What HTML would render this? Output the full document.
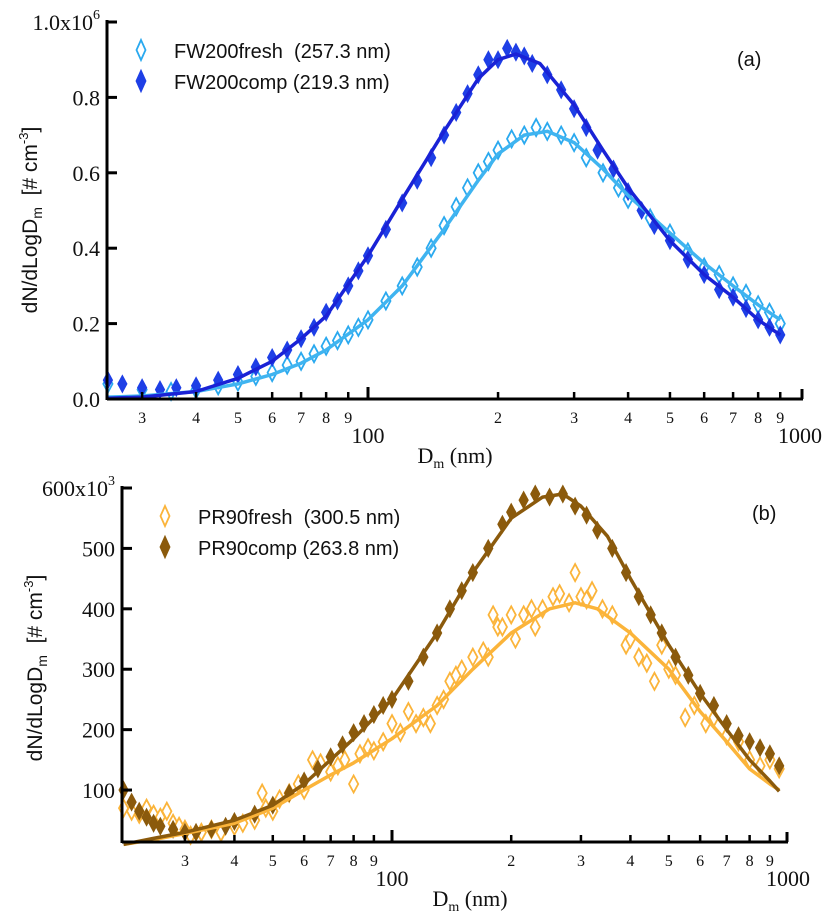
<!DOCTYPE html>
<html><head><meta charset="utf-8"><style>
body{margin:0;background:#fff;width:832px;height:916px;overflow:hidden}
svg{display:block}
.tk{font-family:"Liberation Serif",serif;font-size:22px;fill:#111}
.mt{font-family:"Liberation Serif",serif;font-size:16px;fill:#111}
.lg{font-family:"Liberation Sans",sans-serif;font-size:20px;fill:#111}
.ti{font-family:"Liberation Sans",sans-serif;font-size:21px;fill:#111}
</style></head><body>
<svg id="chart" width="832" height="916" viewBox="0 0 832 916" xmlns="http://www.w3.org/2000/svg"></svg>
<script>
// Panel (a) data, units 1e6 #/cm3
const aCompD=[25,27,30,33,36,40,45,50,55,60,65,70,75,80,85,90,95,100,110,120,130,140,150,160,170,180,190,200,210,220,230,240,260,280,300,320,340,370,400,430,460,500,550,600,650,700,750,800,850,900];
const aCompV=[0.05,0.04,0.03,0.025,0.03,0.035,0.05,0.065,0.085,0.11,0.13,0.16,0.19,0.23,0.26,0.30,0.34,0.38,0.45,0.52,0.58,0.64,0.70,0.76,0.81,0.86,0.90,0.90,0.93,0.92,0.91,0.89,0.86,0.82,0.77,0.72,0.66,0.61,0.55,0.50,0.46,0.42,0.37,0.33,0.29,0.27,0.24,0.21,0.19,0.17];
const aCompFitD=[25,30,40,50,60,70,80,100,120,150,180,200,220,250,300,350,400,500,600,700,800,900];
const aCompFitV=[0.002,0.005,0.02,0.055,0.10,0.16,0.22,0.38,0.53,0.71,0.85,0.90,0.915,0.89,0.78,0.66,0.56,0.42,0.33,0.27,0.21,0.17];
const aFreshD=[25,30,35,40,45,50,55,60,65,70,75,80,85,90,95,100,110,120,130,140,150,160,170,180,190,200,215,230,245,260,280,300,320,350,380,400,450,500,550,600,650,700,750,800,850,900];
const aFreshV=[0.04,0.025,0.02,0.025,0.035,0.045,0.06,0.07,0.09,0.10,0.12,0.14,0.155,0.17,0.19,0.21,0.26,0.30,0.35,0.40,0.46,0.51,0.56,0.60,0.63,0.66,0.69,0.70,0.72,0.71,0.70,0.68,0.64,0.60,0.56,0.53,0.48,0.44,0.39,0.35,0.33,0.30,0.28,0.25,0.23,0.20];
const aFreshFitD=[25,30,40,50,60,70,80,100,120,150,180,200,230,260,300,350,400,500,600,700,800,900];
const aFreshFitV=[0.005,0.008,0.02,0.04,0.065,0.095,0.13,0.21,0.30,0.45,0.58,0.65,0.70,0.71,0.68,0.61,0.54,0.44,0.36,0.30,0.25,0.21];
const aTicks=[0,0.2,0.4,0.6,0.8,1.0];
const aTickLabels=["0.0","0.2","0.4","0.6","0.8","1.0x10"];
// Panel (b) data, units 1e3 #/cm3
const bCompD=[21,22,23,24,25,26,28,30,32,35,38,40,45,50,55,60,65,70,75,80,85,90,95,100,110,120,130,140,150,160,175,190,200,215,230,250,270,290,310,330,360,390,420,450,480,520,560,600,650,700,750,800,850,900,950];
const bCompV=[100,80,65,55,45,40,35,30,30,35,40,48,60,75,95,115,135,155,175,195,210,225,240,250,280,320,360,400,430,460,500,540,560,580,590,585,590,570,555,530,500,460,420,390,360,320,290,260,240,210,190,180,170,160,140];
const bCompFitD=[21,25,30,40,50,60,70,80,100,130,160,200,240,270,300,350,400,500,600,700,800,900,950];
const bCompFitV=[10,20,30,50,75,110,150,185,250,360,460,550,585,590,570,520,450,340,260,200,150,115,98];
const bFreshD=[21,22,23,24,25,26,27,28,29,30,31,33,35,37,40,42,45,47,48,50,52,55,58,60,63,66,70,73,76,80,83,87,90,95,100,105,110,115,120,125,130,135,140,145,150,160,170,175,180,185,190,200,205,215,225,230,240,255,265,280,290,300,310,320,340,360,390,400,420,440,460,480,500,520,550,580,620,650,700,750,800,850,900,950];
const bFreshV=[70,65,60,70,60,55,65,45,40,35,25,30,35,30,40,45,50,95,70,65,85,95,110,100,150,145,130,140,150,110,160,170,165,180,210,195,230,210,220,210,240,250,280,290,300,320,330,320,390,370,370,390,350,390,400,370,400,420,425,410,460,420,415,430,400,390,340,350,320,310,280,340,300,290,220,240,210,220,190,180,150,140,150,135];
const bFreshFitD=[21,25,30,40,50,60,70,80,100,130,160,200,250,290,330,400,500,600,700,800,900,950];
const bFreshFitV=[10,18,28,45,70,100,125,145,185,240,300,360,400,410,400,360,300,230,180,135,110,100];
const bTicks=[100,200,300,400,500,600];
const bTickLabels=["100","200","300","400","500","600x10"];
const xMinor=[30,40,50,60,70,80,90,200,300,400,500,600,700,800,900];
const xMinorLabels=["3","4","5","6","7","8","9","2","3","4","5","6","7","8","9"];

const NS="http://www.w3.org/2000/svg";
const svg=document.getElementById('chart');
function mk(tag,attrs,parent){const e=document.createElementNS(NS,tag);for(const k in attrs)e.setAttribute(k,attrs[k]);(parent||svg).appendChild(e);return e;}

function panel(P){
  const g=mk('g',{});
  
  
  const X=d=>P.x100+Math.log10(d/100)*P.dec;
  const Y=v=>P.y0-(v-P.vmin)/(P.vmax-P.vmin)*(P.y0-P.ytop);
  function line(D,V,col,nm){
    const p=mk('path',{d:D.map((d,i)=>(i?'L':'M')+X(d).toFixed(1)+','+Y(V[i]).toFixed(1)).join(''),fill:'none',stroke:col,'stroke-width':3.5,'stroke-linejoin':'round'},g);
    
    
  }
  function pts(D,V,col,filled,nm){
    const gg=mk('g',{},g);
    
    
    D.forEach((d,i)=>{const x=X(d),y=Y(V[i]);
      const m=mk('path',{d:`M${x},${y-8.5}L${x+4.6},${y}L${x},${y+8.5}L${x-4.6},${y}Z`,fill:filled?col:'#fff',stroke:col,'stroke-width':filled?1:1.8},gg);
      
      });
  }
  pts(P.fD,P.fV,P.fCol,false,'fresh-points');
  pts(P.cD,P.cV,P.cCol,true,'comp-points');
  line(P.fFD,P.fFV,P.fLine,'fresh-fit-line');
  line(P.cFD,P.cFV,P.cLine,'comp-fit-line');
  const ya=mk('line',{x1:P.xl,y1:P.ytop-2,x2:P.xl,y2:P.y0+1,stroke:'#000','stroke-width':3},g);
  
  const xa=mk('line',{x1:P.xl,y1:P.y0,x2:P.xr,y2:P.y0,stroke:'#000','stroke-width':3},g);
  
  mk('line',{x1:P.xr-1,y1:P.y0,x2:P.xr-1,y2:P.y0-10,stroke:'#000','stroke-width':3},g);
  P.ticks.forEach((t,i)=>{const y=Y(t);
    mk('line',{x1:P.xl,y1:y,x2:P.xl+10,y2:y,stroke:'#000','stroke-width':3},g);
    const tx=mk('text',{x:P.xl-7,y:y+8,'text-anchor':'end',class:'tk'},g);tx.textContent=P.tickLabels[i];
    
    if(i===P.ticks.length-1){const s=mk('tspan',{dy:-11,'font-size':14},tx);s.textContent=P.exp;}
  });
  xMinor.forEach((d,i)=>{const x=X(d);
    mk('line',{x1:x,y1:P.y0,x2:x,y2:P.y0-7,stroke:'#000','stroke-width':2.5},g);
    const t=mk('text',{x:x,y:P.y0+24,'text-anchor':'middle',class:'mt'},g);t.textContent=xMinorLabels[i];
    });
  [100,1000].forEach(d=>{const x=X(d);
    if(d===100)mk('line',{x1:x,y1:P.y0,x2:x,y2:P.y0-12,stroke:'#000','stroke-width':3},g);
    const t=mk('text',{x:x,y:P.y0+44,'text-anchor':'middle',class:'tk'},g);t.textContent=String(d);
    });
  const xt=mk('text',{x:P.xtX,y:P.y0+64,'text-anchor':'middle',class:'tk','font-size':24},g);
  
  xt.innerHTML='D<tspan font-size="14" dy="5">m</tspan><tspan dy="-5"> (nm)</tspan>';
  const yt=mk('text',{transform:`translate(${P.ytX},${P.ytY}) rotate(-90)`,'text-anchor':'middle',class:'ti'},g);
  
  yt.innerHTML='dN/dLogD<tspan font-size="14" dy="5">m</tspan><tspan dy="-5" style="white-space:pre">  [# cm</tspan><tspan font-size="13" dy="-9">-3</tspan><tspan dy="9">]</tspan>';
  [[P.fName,P.fCol,false],[P.cName,P.cCol,true]].forEach((L,i)=>{const x=P.lgX,y=P.lgY+i*31;
    const lg=mk('g',{},g);
    mk('path',{d:`M${x},${y-10}L${x+4.5},${y}L${x},${y+10}L${x-4.5},${y}Z`,fill:L[2]?L[1]:'#fff',stroke:L[1],'stroke-width':1.8},lg);
    const t=mk('text',{x:x+33,y:y+8,class:'lg',style:'white-space:pre'},lg);t.textContent=L[0];});
  const pl=mk('text',{x:P.plX,y:P.plY,class:'lg','font-size':22},g);pl.textContent=P.plab;
  
}
panel({name:'panel-a',x100:368,dec:432,xl:107,xr:803,y0:399,ytop:22,vmin:0,vmax:1.0,
  ticks:aTicks,tickLabels:aTickLabels,exp:'6',
  fD:aFreshD,fV:aFreshV,fFD:aFreshFitD,fFV:aFreshFitV,cD:aCompD,cV:aCompV,cFD:aCompFitD,cFV:aCompFitV,
  fCol:'#2aa9ef',fLine:'#3fb4f0',cCol:'#1e3fe6',cLine:'#1a22d6',
  fName:'FW200fresh  (257.3 nm)',cName:'FW200comp (219.3 nm)',lgX:141,lgY:50,plab:'(a)',plX:737,plY:66,
  xtX:455,ytX:37,ytY:220});
panel({name:'panel-b',x100:392,dec:396,xl:122,xr:788,y0:842,ytop:488,vmin:14,vmax:600,
  ticks:bTicks,tickLabels:bTickLabels,exp:'3',
  fD:bFreshD,fV:bFreshV,fFD:bFreshFitD,fFV:bFreshFitV,cD:bCompD,cV:bCompV,cFD:bCompFitD,cFV:bCompFitV,
  fCol:'#fbb43a',fLine:'#fbb43a',cCol:'#8b5a0c',cLine:'#8b5a0c',
  fName:'PR90fresh  (300.5 nm)',cName:'PR90comp (263.8 nm)',lgX:165,lgY:516,plab:'(b)',plX:752,plY:520,
  xtX:470,ytX:42,ytY:668});
</script>
</body></html>
